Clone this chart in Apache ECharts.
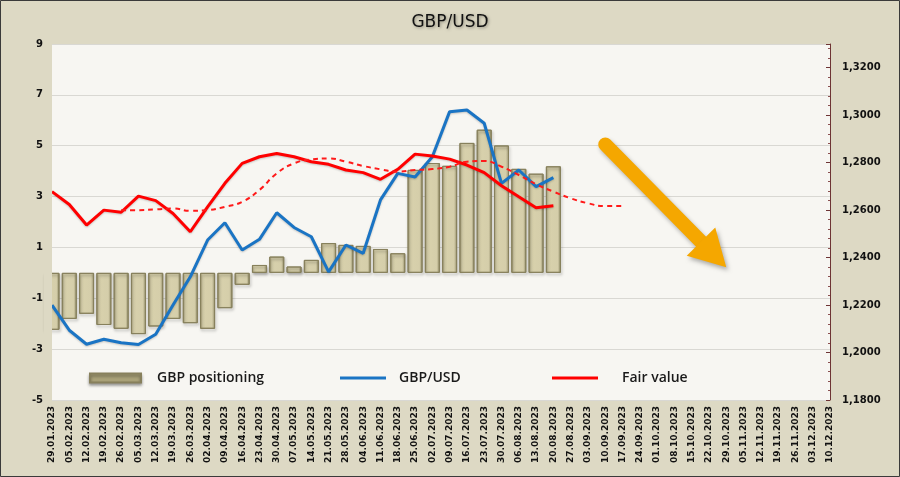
<!DOCTYPE html>
<html><head><meta charset="utf-8">
<script src="https://cdn.jsdelivr.net/npm/echarts@6/dist/echarts.min.js"></script>
<style>html,body{margin:0;padding:0;background:#ddd9c4;}#c{width:900px;height:477px;}</style>
</head><body><div id="c"></div>
<script>
const categories = ['29.01.2023','05.02.2023','12.02.2023','19.02.2023','26.02.2023','05.03.2023','12.03.2023','19.03.2023','26.03.2023','02.04.2023','09.04.2023','16.04.2023','23.04.2023','30.04.2023','07.05.2023','14.05.2023','21.05.2023','28.05.2023','04.06.2023','11.06.2023','18.06.2023','25.06.2023','02.07.2023','09.07.2023','16.07.2023','23.07.2023','30.07.2023','06.08.2023','13.08.2023','20.08.2023','27.08.2023','03.09.2023','10.09.2023','17.09.2023','24.09.2023','01.10.2023','08.10.2023','15.10.2023','22.10.2023','29.10.2023','05.11.2023','12.11.2023','19.11.2023','26.11.2023','03.12.2023','10.12.2023'];
const positioning = [-2.24,-1.81,-1.61,-2.05,-2.20,-2.41,-2.11,-1.81,-1.98,-2.20,-1.39,-0.47,0.31,0.64,0.25,0.51,1.17,1.10,1.06,0.94,0.77,4.05,4.32,4.21,5.11,5.63,5.01,4.09,3.90,4.19];
const gbpusd = [1.2200,1.2094,1.2035,1.2056,1.2041,1.2034,1.2077,1.2200,1.2319,1.2474,1.2547,1.2432,1.2477,1.2589,1.2527,1.2488,1.2340,1.2453,1.2418,1.2643,1.2755,1.2740,1.2825,1.3015,1.3022,1.2966,1.2713,1.2769,1.2699,1.2737];
const fairValue = [1.2678,1.2624,1.2537,1.2600,1.2591,1.2659,1.2640,1.2586,1.2509,1.2614,1.2713,1.2797,1.2825,1.2839,1.2825,1.2804,1.2793,1.2769,1.2758,1.2730,1.2772,1.2836,1.2828,1.2815,1.2790,1.2758,1.2703,1.2656,1.2610,1.2618];
const fairTrend = [null,null,null,null,1.2600,1.2600,1.2603,1.2607,1.2597,1.2600,1.2614,1.2635,1.2685,1.2755,1.2797,1.2814,1.2818,1.2804,1.2786,1.2772,1.2762,1.2769,1.2773,1.2783,1.2804,1.2807,1.2783,1.2748,1.2709,1.2678,1.2650,1.2629,1.2617,1.2617];
const leftTicks = {min:-5, max:9, interval:2};
const rightTicks = {min:1.18, max:1.33, interval:0.02};
// arrow anchor in data space: [category index, left-axis value]
const arrowFrom = [31.6, 5.05];
const arrowTo = [39.1, 0.22];

const chart = echarts.init(document.getElementById('c'), null, {renderer:'canvas'});
const axisFont = {fontFamily:'DejaVu Sans', fontWeight:'bold', color:'#111'};
function legendText(padLeft){ return {fontFamily:'Open Sans', fontWeight:600, fontSize:14, color:'#1a1a1a', padding:[0,0,0,padLeft]}; }
const option = {
  backgroundColor:'#ddd9c4',
  animation:false,
  title:{text:'GBP/USD', left:'center', top:9, textStyle:{fontFamily:'DejaVu Sans', fontWeight:'normal', fontSize:17, color:'#111', textShadowColor:'rgba(0,0,0,0.35)', textShadowBlur:3, textShadowOffsetX:1, textShadowOffsetY:1}},
  grid:{left:52, right:70, top:44, bottom:77, show:true, backgroundColor:'#f7f6f2', borderWidth:0},
  legend:[
    {data:['GBP positioning'], left:84, top:366, icon:'rect', itemWidth:51, itemHeight:9, textStyle:legendText(11), itemStyle:{color:'#aaa279', shadowColor:'rgba(0,0,0,0.35)', shadowBlur:3, shadowOffsetY:2}},
    {data:['GBP/USD'], left:335, top:366, icon:'rect', itemWidth:46, itemHeight:3, textStyle:legendText(8)},
    {data:['Fair value'], left:547, top:366, icon:'rect', itemWidth:46, itemHeight:3, textStyle:legendText(19)}
  ],
  xAxis:{type:'category', data:categories, boundaryGap:false,
    axisLine:{show:false}, axisTick:{show:false},
    axisLabel:Object.assign({rotate:90, interval:0, fontSize:9, margin:6}, axisFont)},
  yAxis:[
    {type:'value', min:leftTicks.min, max:leftTicks.max, interval:leftTicks.interval, position:'left',
      axisLine:{show:false}, axisTick:{show:false},
      splitLine:{lineStyle:{color:'#d9d8d3', width:1}},
      axisLabel:Object.assign({fontSize:10, margin:9}, axisFont)},
    {type:'value', min:rightTicks.min, max:rightTicks.max, interval:rightTicks.interval, position:'right',
      axisLine:{show:true, lineStyle:{color:'#6e3434', width:1}},
      axisTick:{show:true, inside:true, length:4, lineStyle:{color:'#6e3434'}},
      minorTick:{show:true, splitNumber:5, length:2, lineStyle:{color:'#8a5050'}},
      splitLine:{show:false},
      axisLabel:Object.assign({fontSize:10, margin:12, showMaxLabel:false, formatter:v=>v.toFixed(4).replace('.',',')}, axisFont)}
  ],
  series:[
    {name:'GBP positioning', type:'bar', data:positioning, barWidth:15, clip:true, yAxisIndex:0,
      itemStyle:{color:new echarts.graphic.LinearGradient(0,0,1,0,[{offset:0,color:'#b3ab82'},{offset:0.18,color:'#d8d1ac'},{offset:0.8,color:'#d5ceaa'},{offset:1,color:'#9d9670'}]),
        borderColor:'#87805c', borderWidth:1, shadowColor:'rgba(0,0,0,0.3)', shadowBlur:3, shadowOffsetX:1, shadowOffsetY:2}},
    {name:'GBP/USD', type:'line', data:gbpusd, yAxisIndex:1, showSymbol:false, symbol:'none',
      lineStyle:{color:'#1a74c4', width:3, shadowColor:'rgba(0,0,0,0.2)', shadowBlur:2, shadowOffsetY:1}, itemStyle:{color:'#1a74c4'}},
    {name:'Fair value', type:'line', data:fairValue, yAxisIndex:1, showSymbol:false, symbol:'none',
      lineStyle:{color:'#ff0000', width:3, shadowColor:'rgba(0,0,0,0.2)', shadowBlur:2, shadowOffsetY:1}, itemStyle:{color:'#ff0000'}},
    {name:'Fair trend', type:'line', data:fairTrend, yAxisIndex:1, showSymbol:false, symbol:'none', smooth:0.5,
      lineStyle:{color:'#ff1a1a', width:2, type:[5,4]}, itemStyle:{color:'#ff1a1a'}}
  ]
};
chart.setOption(option);

// orange trend arrow placed via the axes
const p0 = chart.convertToPixel({xAxisIndex:0, yAxisIndex:0}, arrowFrom);
const p1 = chart.convertToPixel({xAxisIndex:0, yAxisIndex:0}, arrowTo);
const dx = p1[0]-p0[0], dy = p1[1]-p0[1], L = Math.hypot(dx,dy);
const ux = dx/L, uy = dy/L, nx = -uy, ny = ux;
const headLen = 36, headHalf = 20;
const bx = p1[0]-ux*headLen, by = p1[1]-uy*headLen;
// plot-area left edge, to trim the first bar that overflows the grid
const gridLeft = chart.convertToPixel({xAxisIndex:0}, 0);
chart.setOption({graphic:[
  {type:'rect', shape:{x:gridLeft-8, y:40, width:8, height:365}, style:{fill:'#ddd9c4'}, z:40, silent:true},
  {type:'line', shape:{x1:p0[0], y1:p0[1], x2:bx+ux*4, y2:by+uy*4}, style:{stroke:'#f5a700', lineWidth:14, lineCap:'round', shadowColor:'rgba(0,0,0,0.3)', shadowBlur:4, shadowOffsetX:2, shadowOffsetY:3}, z:50},
  {type:'polygon', shape:{points:[[p1[0],p1[1]],[bx+nx*headHalf,by+ny*headHalf],[bx-nx*headHalf,by-ny*headHalf]]}, style:{fill:'#f5a700', shadowColor:'rgba(0,0,0,0.3)', shadowBlur:4, shadowOffsetX:2, shadowOffsetY:3}, z:50},
  {type:'rect', shape:{x:0.5, y:0.5, width:899, height:476}, style:{fill:'none', stroke:'#3a3a3a', lineWidth:1}, z:100}
]});
</script></body></html>
